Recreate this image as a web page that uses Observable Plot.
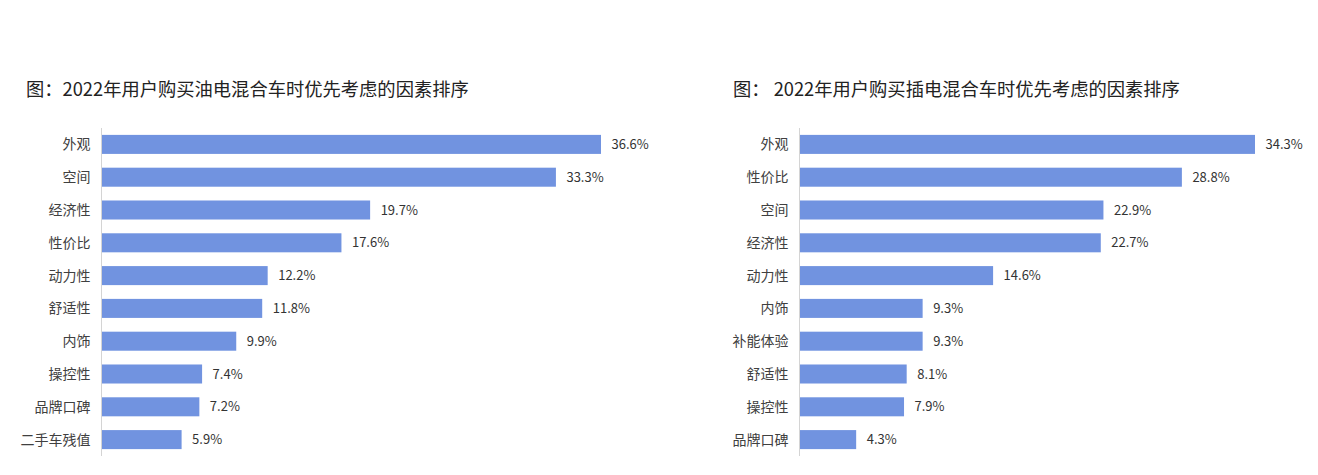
<!DOCTYPE html>
<html><head><meta charset="utf-8">
<script src="https://cdn.jsdelivr.net/npm/d3@7"></script>
<script src="https://cdn.jsdelivr.net/npm/@observablehq/plot@0.6"></script>
<style>
body{margin:0;background:#fff;width:1318px;height:475px;position:relative;overflow:hidden;font-family:"Noto Sans CJK SC","Noto Sans",sans-serif;}
.title{position:absolute;font-size:18.3px;color:#222;white-space:pre;line-height:1;}
.chart{position:absolute;top:118px;}
</style></head>
<body>
<div class="title" style="left:26px;top:79px;">图：2022年用户购买油电混合车时优先考虑的因素排序</div>
<div class="title" style="left:733px;top:79px;">图： 2022年用户购买插电混合车时优先考虑的因素排序</div>
<div id="left" class="chart" style="left:0px;"></div>
<div id="right" class="chart" style="left:659px;"></div>
<script>
const leftCats = ["外观","空间","经济性","性价比","动力性","舒适性","内饰","操控性","品牌口碑","二手车残值"];
const leftVals = [36.6,33.3,19.7,17.6,12.2,11.8,9.9,7.4,7.2,5.9];
const rightCats = ["外观","性价比","空间","经济性","动力性","内饰","补能体验","舒适性","操控性","品牌口碑"];
const rightVals = [34.3,28.8,22.9,22.7,14.6,9.3,9.3,8.1,7.9,4.3];

function draw(cats, vals, marginLeft, marginRight){
  const data = cats.map((c,i)=>({cat:c, v:vals[i]}));
  const xmax = d3.max(vals);
  return Plot.plot({
    width: 659, height: 348,
    marginTop: 10, marginBottom: 10, marginLeft, marginRight,
    style: {fontFamily: '"Noto Sans CJK SC","Noto Sans",sans-serif', fontSize: "13px", color: "#404040", background: "#fff"},
    x: {domain: [0, xmax], axis: null},
    y: {domain: cats, paddingInner: 0.42, paddingOuter: 0.21, round: false, label: null},
    marks: [
      Plot.barX(data, {x: "v", y: "cat", fill: "#7193e0"}),
      Plot.ruleX([0], {stroke: "#d4d4d4", strokeWidth: 1}),
      Plot.axisY({tickSize: 0, tickPadding: 11, label: null, fontSize: 14, fill: "#404040"}),
      Plot.text(data, {x: "v", y: "cat", text: d => d.v.toFixed(1) + "%", dx: 10, textAnchor: "start", fontSize: 13, fill: "#333"})
    ]
  });
}
document.getElementById("left").appendChild(draw(leftCats, leftVals, 101, 58));
document.getElementById("right").appendChild(draw(rightCats, rightVals, 140, 63));
</script>
</body></html>
